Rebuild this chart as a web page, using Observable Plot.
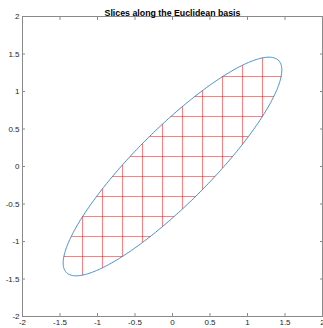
<!DOCTYPE html>
<html>
<head>
<meta charset="utf-8">
<script src="https://cdn.jsdelivr.net/npm/d3@7"></script>
<script src="https://cdn.jsdelivr.net/npm/@observablehq/plot@0.6"></script>
<style>
  body { margin: 0; background: #fff; }
</style>
</head>
<body>
<div id="chart"></div>
<script>
const titleText = "Slices along the Euclidean basis";
const xTicks = [-2, -1.5, -1, -0.5, 0, 0.5, 1, 1.5, 2];
const yTicks = [-2, -1.5, -1, -0.5, 0, 0.5, 1, 1.5, 2];

// Ellipse: centre, semi-axes (major, minor) and tilt of the major axis in degrees
const ellipseCenter = [0, 0];
const ellipseAxes = [2, 0.5];
const ellipseAngle = 45;

// Slice positions along each basis direction
const sliceX = [-1.2, -0.9333, -0.6667, -0.4, -0.1333, 0.1333, 0.4, 0.6667, 0.9333, 1.2];
const sliceY = [-1.2, -0.9333, -0.6667, -0.4, -0.1333, 0.1333, 0.4, 0.6667, 0.9333, 1.2];

// Outline of the ellipse
const th = ellipseAngle * Math.PI / 180;
const [a, b] = ellipseAxes;
const [cx, cy] = ellipseCenter;
const outline = d3.range(0, 361).map(deg => {
  const t = deg * Math.PI / 180;
  return {
    x: cx + a * Math.cos(t) * Math.cos(th) - b * Math.sin(t) * Math.sin(th),
    y: cy + a * Math.cos(t) * Math.sin(th) + b * Math.sin(t) * Math.cos(th)
  };
});

// Quadratic form of the ellipse: p'Qp = 1
const c = Math.cos(th), s = Math.sin(th);
const Q11 = c * c / (a * a) + s * s / (b * b);
const Q22 = s * s / (a * a) + c * c / (b * b);
const Q12 = c * s * (1 / (a * a) - 1 / (b * b));

// Chords of the ellipse along x = const and y = const
const segments = [];
for (const xv of sliceX) {
  const dx = xv - cx;
  const disc = Q12 * Q12 * dx * dx - Q22 * (Q11 * dx * dx - 1);
  if (disc <= 0) continue;
  const r = Math.sqrt(disc);
  segments.push({x1: xv, x2: xv, y1: cy + (-Q12 * dx - r) / Q22, y2: cy + (-Q12 * dx + r) / Q22});
}
for (const yv of sliceY) {
  const dy = yv - cy;
  const disc = Q12 * Q12 * dy * dy - Q11 * (Q22 * dy * dy - 1);
  if (disc <= 0) continue;
  const r = Math.sqrt(disc);
  segments.push({y1: yv, y2: yv, x1: cx + (-Q12 * dy - r) / Q11, x2: cx + (-Q12 * dy + r) / Q11});
}

const fmt = d => String(d);
const axisColor = "#8a8a8a";

const chart = Plot.plot({
  width: 323,
  height: 328,
  marginLeft: 22,
  marginRight: 1,
  marginTop: 16,
  marginBottom: 12,
  x: {domain: [-2, 2]},
  y: {domain: [-2, 2]},
  style: {fontFamily: "'Liberation Sans', Arial, sans-serif", fontSize: "8px", color: "#262626", background: "#fff"},
  marks: [
    Plot.frame({stroke: axisColor}),
    Plot.axisX(xTicks, {anchor: "bottom", tickSize: -3, tickPadding: 6, tickFormat: fmt, stroke: axisColor, fill: "#262626"}),
    Plot.axisX(xTicks, {anchor: "top", tickSize: -3, tickFormat: () => "", stroke: axisColor}),
    Plot.axisY(yTicks, {anchor: "left", tickSize: -3, tickPadding: 6, tickFormat: fmt, stroke: axisColor, fill: "#262626"}),
    Plot.axisY(yTicks, {anchor: "right", tickSize: -3, tickFormat: () => "", stroke: axisColor}),
    Plot.line(outline, {x: "x", y: "y", stroke: "#2f86cc", strokeWidth: 0.9, curve: "linear"}),
    Plot.link(segments, {x1: "x1", y1: "y1", x2: "x2", y2: "y2", stroke: "red", strokeOpacity: 0.5, strokeWidth: 1}),
    Plot.text([titleText], {frameAnchor: "top", dy: -7, fontWeight: "bold", fontSize: 8.8, fill: "#000"})
  ]
});
document.getElementById("chart").append(chart);
</script>
</body>
</html>
